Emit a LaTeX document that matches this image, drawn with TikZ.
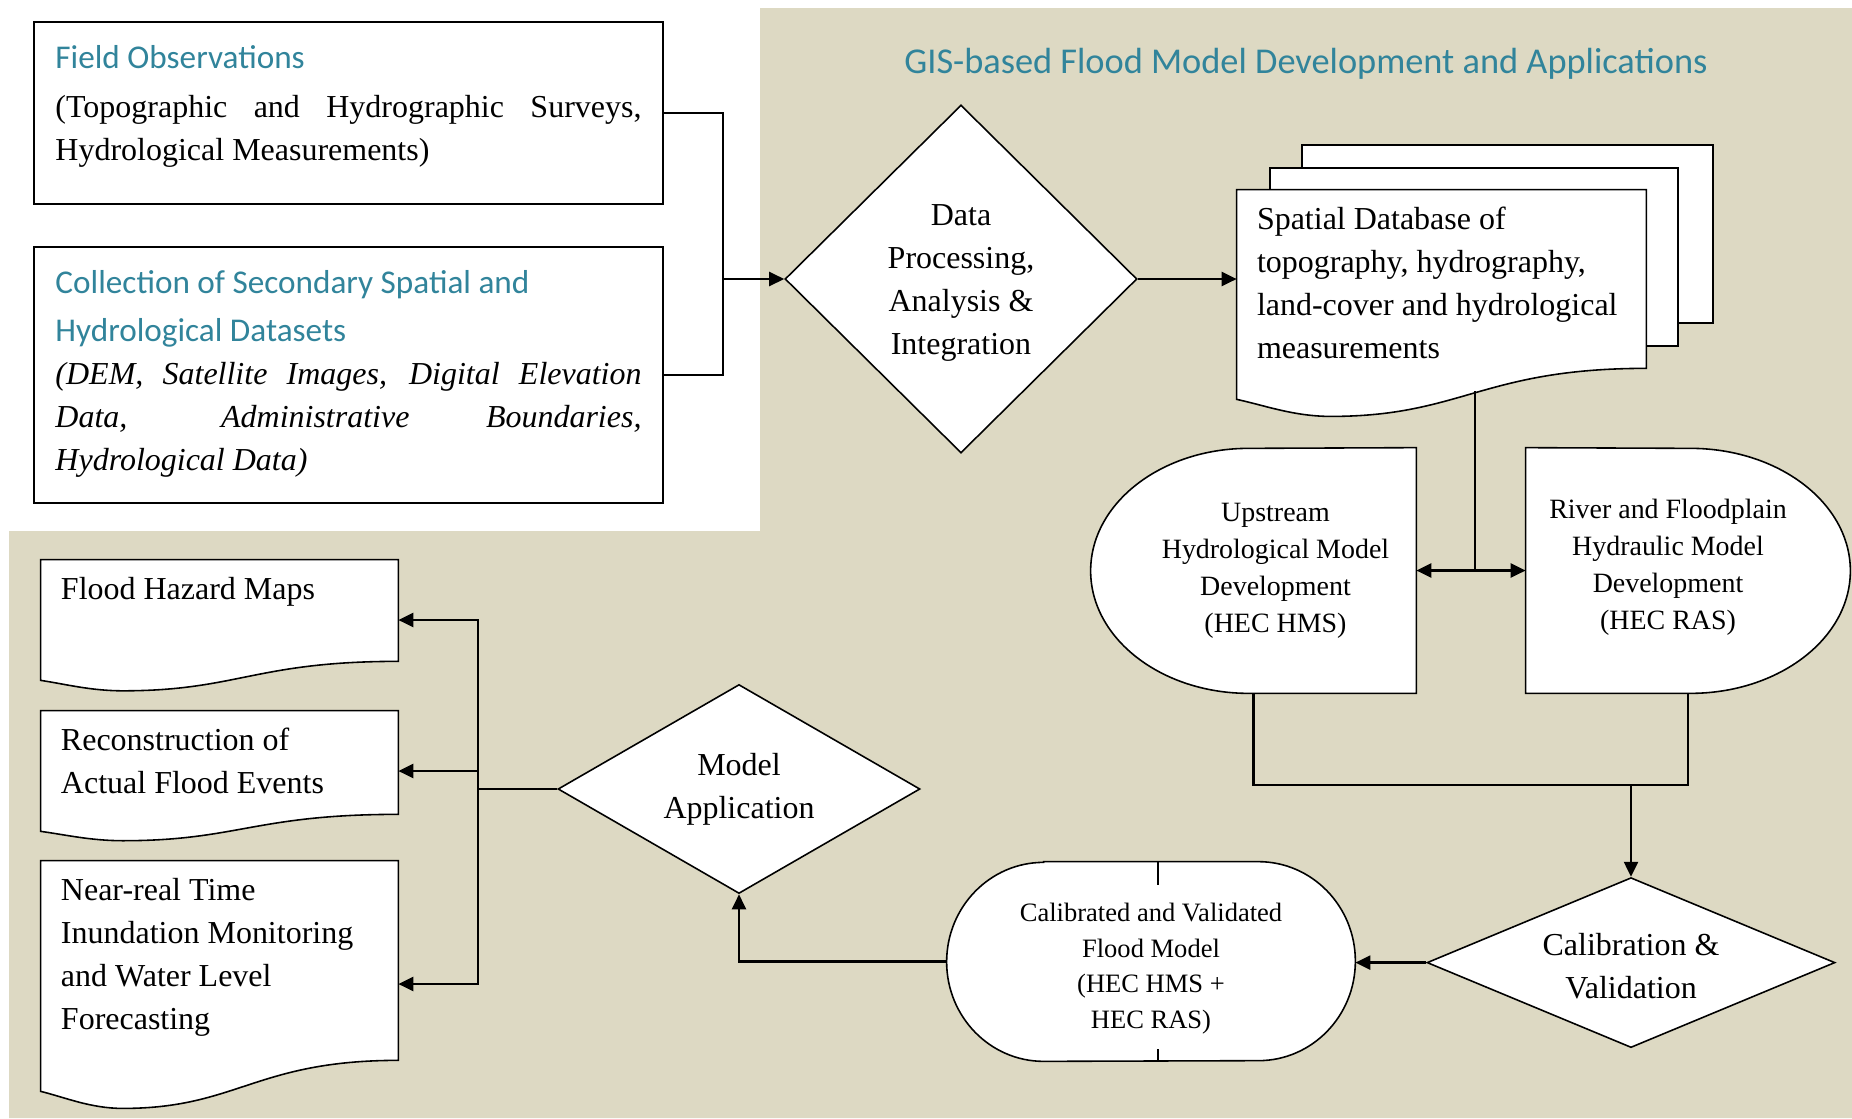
\documentclass[tikz,border=0pt]{standalone}
\usepackage{fontspec}
\setmainfont{Liberation Serif}
\newfontfamily\headfont{Carlito}
\usepackage{tikz}
\usetikzlibrary{arrows.meta}
\usetikzlibrary{positioning,calc,shapes,backgrounds}
\usepackage{xcolor}
\definecolor{headteal}{HTML}{31849B}
\definecolor{panelbg}{HTML}{DDD9C3}

\newcommand{\toptext}[3]{\parbox[c][#1][t]{#2}{\parskip=0pt\hyphenpenalty=10000 #3}}
\newcommand{\docoutline}[2]{%
  \draw[shapeline] (#1.south west) -- (#1.north west) -- (#1.north east)
    -- ($(#1.south east)+(0,-#2)$)
    .. controls ($(#1.south west)!0.6!(#1.south east)+(0,-#2)$)
       and ($(#1.south west)!0.55!(#1.south east)+(0,0.55*#2)$)
    .. ($(#1.south west)!0.23!(#1.south east)+(0,0.55*#2)$)
    .. controls ($(#1.south west)!0.14!(#1.south east)+(0,0.55*#2)$)
       and ($(#1.south west)!0.07!(#1.south east)+(0,0.2*#2)$)
    .. (#1.south west) -- cycle;}

\tikzset{
    inbox/.style={
        draw,
        line width=0.9pt,
        fill=white,
        inner xsep=4.3mm,
        inner ysep=4.6mm,
        font=\fontsize{18.2}{24.5}\selectfont
    },
    decision/.style={
        draw,
        diamond,
        line width=0.9pt,
        fill=white,
        inner sep=0pt,
        align=center,
        font=\fontsize{18.2}{24.5}\selectfont
    },
    docbox/.style={inner xsep=4mm, inner ysep=3.4mm, font=\fontsize{18.2}{24.5}\selectfont},
    procbox/.style={inner sep=0pt, font=\fontsize{15.9}{21}\selectfont},
    shapeline/.style={line width=0.9pt, fill=white},
    flow/.style={line width=1.3pt},
    flowarrow/.style={line width=1.3pt, -{Triangle[length=3mm, width=2.8mm]}}
}

\begin{document}
\begin{tikzpicture}[x=0.2mm, y=-0.2mm]
  \useasboundingbox (0,0) rectangle (1852,1118);

  % Tan panel behind the model part
  \begin{pgfonlayer}{background}
    \fill[panelbg] (760,8) -- (1852,8) -- (1852,1118) -- (9,1118) -- (9,531) -- (760,531) -- cycle;
  \end{pgfonlayer}

  \node[font=\headfont\fontsize{20.7}{25}\selectfont, text=headteal] (title) at (1306,64)
    {GIS-based Flood Model Development and Applications};

  % Input data boxes
  \node[inbox, minimum width=125.8mm, minimum height=36.4mm] (fieldobs) at (348.5,113) {\toptext{27.2mm}{117.2mm}{%
      {\headfont\fontsize{18.9}{27.3}\selectfont\color{headteal}Field Observations\par}
      \vspace{3.4pt}
      (Topographic and Hydrographic Surveys,\linebreak Hydrological Measurements)}};
  \node[inbox, minimum width=125.8mm, minimum height=51.2mm] (secdata) at (348.5,375) {\toptext{42mm}{117.2mm}{%
      {\headfont\fontsize{18.9}{27.3}\selectfont\color{headteal}Collection of Secondary Spatial and\\Hydrological Datasets\par}
      {\itshape (DEM, Satellite Images, Digital Elevation\linebreak Data, Administrative Boundaries,\linebreak Hydrological Data)\par}}};

  % Processing
  \node[decision, aspect=1, minimum width=70.4mm, minimum height=69.6mm] (dataproc) at (961,279)
    {\parbox{30.5mm}{\centering\vspace*{1.6mm}Data\\Processing,\\Analysis \&\\Integration}};

  % Spatial database (stacked documents)
  \node[docbox, minimum width=81.8mm, minimum height=41.8mm] (spatialdb) at (1441.5,294.5) {\toptext{35mm}{73.8mm}{\raggedright
      Spatial Database of\\topography, hydrography,\\land-cover and hydrological\\measurements}};
  \begin{pgfonlayer}{background}
    \draw[shapeline] (1302,145) rectangle (1713,323);
    \draw[shapeline] (1270,168) rectangle (1678,346);
    \docoutline{spatialdb}{31}
  \end{pgfonlayer}

  % Model development
  \node[procbox, minimum width=65mm, minimum height=49mm] (hms) at (1253.5,570.5)
    {\hspace{8.8mm}\parbox{50mm}{\centering Upstream\\Hydrological Model\\Development\\(HEC HMS)}};
  \node[procbox, minimum width=64.8mm, minimum height=49mm] (hydr) at (1688,570.5)
    {\parbox{50mm}{\centering River and Floodplain\\Hydraulic Model\\Development\\(HEC RAS)\par\vspace*{1.4mm}}\kern8mm};
  \begin{pgfonlayer}{background}
    \draw[shapeline] (hms.north east) -- (hms.south east) -- ($(hms.south west)+(158,0)$)
      arc[start angle=270, end angle=90, x radius=31.6mm, y radius=24.5mm] -- cycle;
    \draw[shapeline] (hydr.north west) -- (hydr.south west) -- ($(hydr.south east)+(-160,0)$)
      arc[start angle=-90, end angle=90, x radius=32mm, y radius=24.5mm] -- cycle;
  \end{pgfonlayer}

  % Calibration and final model
  \node[decision, aspect=2.4, minimum width=81.6mm, minimum height=34mm] (calib) at (1631,962.6)
    {\parbox{36mm}{\centering\vspace*{1.4mm}Calibration \&\\Validation}};
  \node[procbox, font=\fontsize{15.1}{20.3}\selectfont, minimum width=81.6mm, minimum height=39.8mm] (model) at (1151,961.5)
    {\parbox{70mm}{\centering\vspace*{2.8mm}Calibrated and Validated\\Flood Model\\(HEC HMS +\\HEC RAS)}};
  \begin{pgfonlayer}{background}
    \draw[shapeline] ($(model.north west)+(97,0)$) -- ($(model.north east)+(-97,0)$)
      arc[start angle=90, end angle=-90, x radius=19.4mm, y radius=19.9mm]
      -- ($(model.south west)+(97,0)$)
      arc[start angle=270, end angle=90, x radius=19.4mm, y radius=19.9mm] -- cycle;
  \end{pgfonlayer}
  \draw[line width=0.9pt] ($(model.north)+(7,0)$) -- ++(0,23);
  \draw[line width=0.9pt] ($(model.south)+(7,0)$) -- ++(0,-12);

  % Application and outputs
  \node[decision, aspect=1.73, minimum width=72.4mm, minimum height=41.8mm] (app) at (739,789)
    {Model\\Application};
  \node[docbox, minimum width=71.4mm, minimum height=24mm] (haz) at (219.5,620)
    {\toptext{17.2mm}{63.4mm}{Flood Hazard Maps}};
  \node[docbox, minimum width=71.4mm, minimum height=24mm] (recon) at (219.5,771)
    {\toptext{17.2mm}{63.4mm}{\raggedright Reconstruction of\\Actual Flood Events}};
  \node[docbox, minimum width=71.4mm, minimum height=46mm] (near) at (219.5,976)
    {\toptext{39.2mm}{63.4mm}{\raggedright Near-real Time\\Inundation Monitoring\\and Water Level\\Forecasting}};
  \begin{pgfonlayer}{background}
    \docoutline{haz}{19}
    \docoutline{recon}{17}
    \docoutline{near}{31}
  \end{pgfonlayer}

  % Connectors
  \coordinate (merge) at (723,279);
  \draw[flow] (fieldobs.east) -| (merge) |- (secdata.east);
  \draw[flowarrow] (merge) -- (dataproc.west);
  \draw[flowarrow] (dataproc.east) -- (dataproc.east -| spatialdb.west);

  \coordinate (dbout) at (1475,391);
  \coordinate (split) at (dbout |- hms.east);
  \draw[flow] (dbout) -- (split);
  \draw[flowarrow] (split) -- (hms.east);
  \draw[flowarrow] (split) -- (hydr.west);

  \coordinate (join) at (1631,785);
  \draw[flow] (hms.south) |- (join) -| (hydr.south);
  \draw[flowarrow] (join) -- (calib.north);

  \draw[flowarrow] (calib.west) -- (calib.west -| model.east);
  \draw[flowarrow] (model.west) -| (app.south);

  \coordinate (fork) at (478,789);
  \draw[flow] (app.west) -- (fork);
  \draw[flowarrow] (fork) |- (haz.east);
  \draw[flowarrow] (fork) |- (recon.east);
  \draw[flowarrow] (fork) |- ($(near.east)+(0,8)$);
\end{tikzpicture}
\end{document}
